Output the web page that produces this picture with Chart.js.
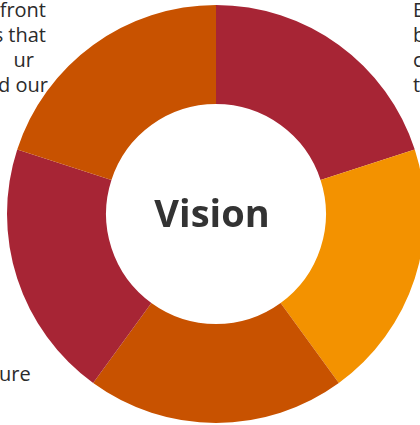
<!DOCTYPE html>
<html>
<head>
<meta charset="utf-8">
<script src="https://cdn.jsdelivr.net/npm/chart.js@4"></script>
<style>
  html, body { margin: 0; padding: 0; width: 420px; height: 425px; overflow: hidden; background: #fff; }
  .txt { position: absolute; font-family: 'Open Sans', sans-serif; font-size: 20px; line-height: 25px; color: #2b2b2b; white-space: nowrap; }
  .left { left: -200px; width: 246px; text-align: right; }
  .right { left: 413px; }
  #wrap { position: absolute; left: 7px; top: 5px; width: 418px; height: 418px; }
</style>
</head>
<body>
<!-- page text that sits behind the ring -->
<div class="txt left" style="top:-3px">front</div>
<div class="txt left" style="top:22px">s that</div>
<div class="txt left" style="top:47px;width:234px">ur</div>
<div class="txt left" style="top:72px;width:248px">d our</div>
<div class="txt right" style="top:-3px">E</div>
<div class="txt right" style="top:22px">b</div>
<div class="txt right" style="top:47px">c</div>
<div class="txt right" style="top:72px">t</div>
<div class="txt" style="left:-1px;top:361px">ure</div>

<div id="wrap"><canvas id="vision-chart"></canvas></div>

<script>
  const labels = ['Part 1', 'Part 2', 'Part 3', 'Part 4', 'Part 5'];
  const values = [20, 20, 20, 20, 20];
  const segment_colors = ['#a72535', '#f39200', '#c85200', '#a72535', '#c85200'];
  const center_text = 'Vision';

  // draw the label in the hole
  const center_label = {
    id: 'center_label',
    afterDraw: (chart) => {
      const { ctx } = chart;
      const arc = chart.getDatasetMeta(0).data[0];
      if (!arc) return;
      ctx.save();
      ctx.font = "bold 38px 'Open Sans', sans-serif";
      ctx.fillStyle = '#333333';
      ctx.textAlign = 'center';
      ctx.textBaseline = 'middle';
      ctx.fillText(center_text, arc.x - 4, arc.y + 2);
      ctx.restore();
    }
  };

  const ctx = document.getElementById('vision-chart').getContext('2d');
  const visionChart = new Chart(ctx, {
    type: 'doughnut',
    data: {
      labels,
      datasets: [{
        data: values,
        backgroundColor: segment_colors,
        borderWidth: 0
      }]
    },
    options: {
      responsive: true,
      maintainAspectRatio: false,
      animation: false,
      cutout: '52.6%',
      layout: { padding: 0 },
      plugins: {
        legend: { display: false },
        tooltip: { enabled: false }
      }
    },
    plugins: [center_label]
  });
</script>
</body>
</html>
